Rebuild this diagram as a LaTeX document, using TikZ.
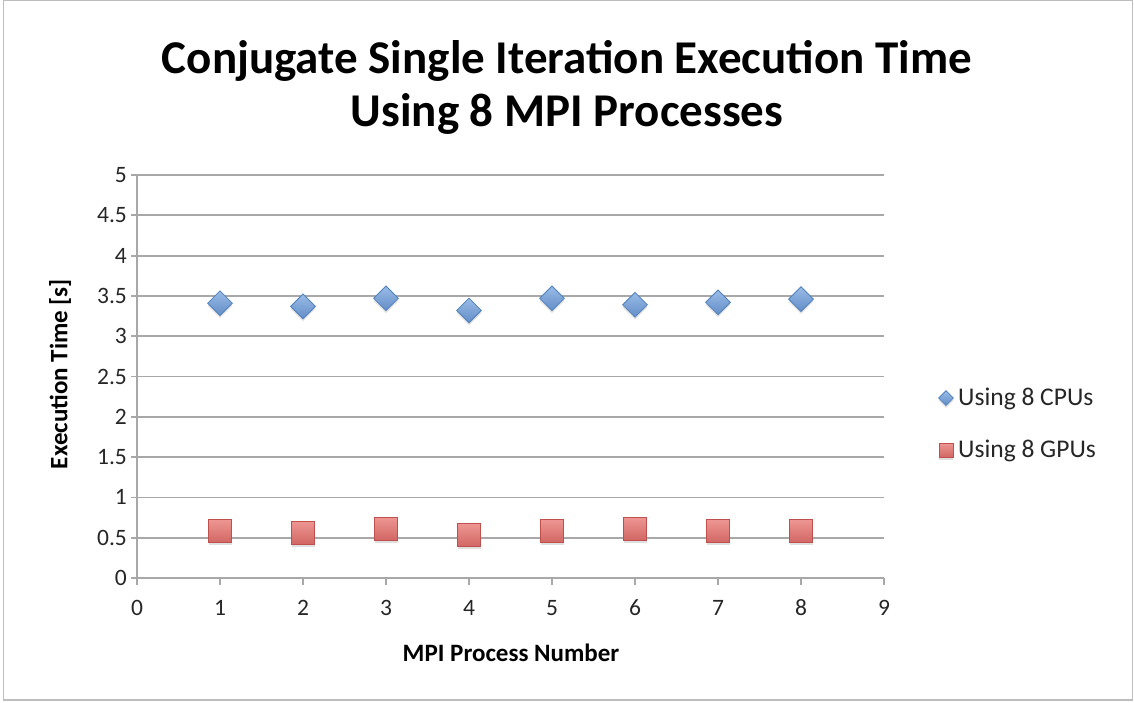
\documentclass[tikz,border=0pt]{standalone}
\usepackage{fontspec}
\setmainfont{Carlito}
\usepackage{tikz}
\usetikzlibrary{shapes.geometric,shadows}

\definecolor{gridgray}{HTML}{A8A8A8}
\definecolor{framegray}{HTML}{BDBDBD}
\definecolor{cpublue}{HTML}{4F81BD}
\definecolor{cpufill}{HTML}{6E9EDD}
\definecolor{gpured}{HTML}{C0504D}
\definecolor{gpufill}{HTML}{E8726E}

\tikzset{
  cpu/.style={diamond, draw=cpublue, line width=0.8pt, inner sep=0pt,
    minimum width=25pt, minimum height=25pt,
    top color=cpufill!70!white, bottom color=cpufill!90!black,
    drop shadow={opacity=0.25, shadow xshift=0pt, shadow yshift=-2.5pt}},
  gpu/.style={rectangle, draw=gpured, line width=0.8pt, inner sep=0pt,
    minimum size=23pt,
    top color=gpufill!75!white, bottom color=gpufill!90!black,
    drop shadow={opacity=0.25, shadow xshift=0pt, shadow yshift=-2.5pt}},
  ticklab/.style={font=\fontsize{23.5}{26}\selectfont, text=black!85},
  legtext/.style={font=\fontsize{25.5}{28}\selectfont, text=black!85},
  axistitle/.style={font=\bfseries\fontsize{25}{28}\selectfont},
}

\begin{document}
\begin{tikzpicture}[x=1pt, y=-1pt]
  \useasboundingbox (0,0) rectangle (1134,702);
  \draw[framegray, line width=1.5pt] (3.5,0) rectangle (1132.5,700);

  % title
  \node[align=center, font=\bfseries\fontsize{47}{53}\selectfont] (title) at (567,87)
    {Conjugate Single Iteration Execution Time\\Using 8 MPI Processes};

  % plot area: one unit in x is 83px, 0.5 in y is 40.3px
  \begin{scope}[shift={(137,578)}, x=83pt, y=80.6pt]
    \foreach \v in {0.5,1,...,5}
      \draw[gridgray, line width=1.8pt] (-0.07,\v) -- (9,\v);
    \draw[gridgray, line width=1.8pt] (-0.07,0) -- (9,0);
    \draw[gridgray, line width=1.8pt] (0,-0.09) -- (0,5);
    \foreach \k in {1,...,9}
      \draw[gridgray, line width=1.8pt] (\k,0) -- (\k,-0.09);

    \foreach \v in {0,0.5,1,1.5,2,2.5,3,3.5,4,4.5,5}
      \node[ticklab, anchor=east, inner sep=0pt] at (-0.12,\v) {\v};
    \foreach \k in {0,...,9}
      \node[ticklab] at (\k,-0.37) {\k};

    % CPU runs
    \node[cpu] (c1) at (1,3.41) {};
    \node[cpu] (c2) at (2,3.37) {};
    \node[cpu] (c3) at (3,3.47) {};
    \node[cpu] (c4) at (4,3.32) {};
    \node[cpu] (c5) at (5,3.47) {};
    \node[cpu] (c6) at (6,3.39) {};
    \node[cpu] (c7) at (7,3.42) {};
    \node[cpu] (c8) at (8,3.46) {};

    % GPU runs
    \node[gpu] (g1) at (1,0.58) {};
    \node[gpu] (g2) at (2,0.56) {};
    \node[gpu] (g3) at (3,0.61) {};
    \node[gpu] (g4) at (4,0.53) {};
    \node[gpu] (g5) at (5,0.58) {};
    \node[gpu] (g6) at (6,0.61) {};
    \node[gpu] (g7) at (7,0.58) {};
    \node[gpu] (g8) at (8,0.58) {};
  \end{scope}

  % axis titles
  \node[axistitle, rotate=90] (ylab) at (60,374) {Execution Time [s]};
  \node[axistitle] (xlab) at (511,653) {MPI Process Number};

  % legend
  \node[cpu, minimum width=15pt, minimum height=15pt, drop shadow={opacity=0}] (legcpu) at (946,398) {};
  \node[legtext, anchor=west, inner sep=0pt] (legcputxt) at (958,399) {Using 8 CPUs};
  \node[gpu, minimum size=14pt, drop shadow={opacity=0}] (leggpu) at (946,450) {};
  \node[legtext, anchor=west, inner sep=0pt] (leggputxt) at (958,451) {Using 8 GPUs};
\end{tikzpicture}
\end{document}
